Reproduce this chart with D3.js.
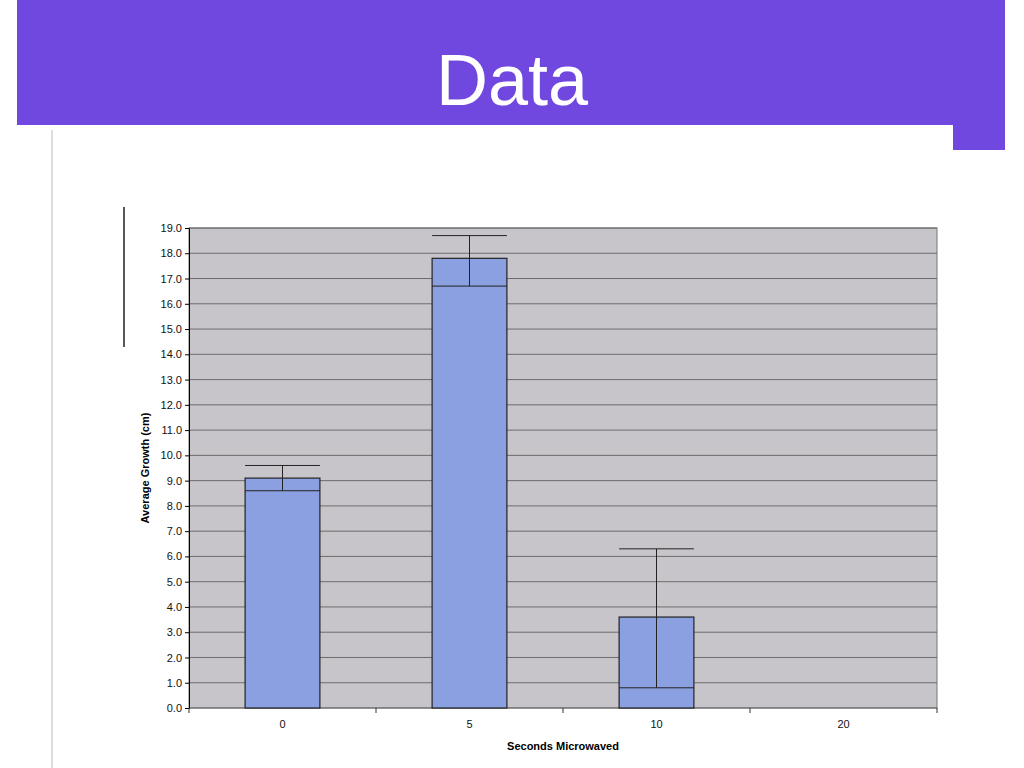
<!DOCTYPE html>
<html><head><meta charset="utf-8">
<script src="https://cdn.jsdelivr.net/npm/d3@7"></script>
<style>body{margin:0;background:#fff;}</style>
</head><body>
<svg id="chart" width="1024" height="768"></svg>
<script>
// data
const categories = ["0", "5", "10", "20"];
const growth = [9.1, 17.8, 3.6, 0];
const errLow = [8.6, 16.7, 0.8, null];
const errHigh = [9.6, 18.7, 6.3, null];
const yTicks = d3.range(0, 19.5, 1);

const svg = d3.select('#chart');

// slide header
svg.append('rect').attr('x', 17).attr('y', 0).attr('width', 988).attr('height', 125).attr('fill', '#7048e0');
svg.append('rect').attr('x', 953).attr('y', 125).attr('width', 52).attr('height', 25).attr('fill', '#7048e0');
svg.append('text').attr('x', 512).attr('y', 105).attr('text-anchor', 'middle')
    .attr('font-family', 'Liberation Sans, Arial, sans-serif').attr('font-size', 72).attr('fill', '#fff').text('Data');

// scan edge marks
svg.append('line').attr('x1', 52).attr('x2', 52).attr('y1', 130).attr('y2', 768).attr('stroke', '#bbb');
svg.append('line').attr('x1', 124).attr('x2', 124).attr('y1', 207).attr('y2', 347).attr('stroke', '#222').attr('stroke-width', 1.5);

const pLeft = 189, pRight = 937, pTop = 228, pBottom = 708;

const x = d3.scaleBand().domain(categories).range([pLeft, pRight]).paddingInner(0.6).paddingOuter(0.3);
const xg = d3.scaleBand().domain(categories).range([pLeft, pRight]);
const y = d3.scaleLinear().domain([0, 19]).range([pBottom, pTop]);

svg.append('rect').attr('x', pLeft).attr('y', pTop).attr('width', pRight - pLeft).attr('height', pBottom - pTop)
    .attr('fill', '#c8c5ca').attr('stroke', '#777');

svg.append('g').selectAll('line').data(yTicks).join('line')
    .attr('x1', pLeft).attr('x2', pRight).attr('y1', d => y(d)).attr('y2', d => y(d))
    .attr('stroke', '#555').attr('stroke-width', 0.8);

const yAxis = svg.append('g').attr('transform', `translate(${pLeft},0)`)
    .call(d3.axisLeft(y).tickValues(yTicks).tickFormat(d3.format('.1f')).tickSize(4));
yAxis.selectAll('text').attr('font-family', 'Liberation Sans, Arial').attr('font-size', 11).attr('fill', '#111');

const xAxis = svg.append('g').attr('transform', `translate(0,${pBottom})`)
    .call(d3.axisBottom(xg).tickSize(0).tickPadding(12));
xAxis.select('.domain').remove();
xAxis.selectAll('text').attr('font-family', 'Liberation Sans, Arial').attr('font-size', 11).attr('fill', '#111');
svg.append('g').selectAll('line').data(categories.concat(['end'])).join('line')
    .attr('x1', (d, i) => pLeft + i * xg.bandwidth()).attr('x2', (d, i) => pLeft + i * xg.bandwidth())
    .attr('y1', pBottom).attr('y2', pBottom + 5).attr('stroke', '#333');

svg.append('g').selectAll('rect').data(growth).join('rect')
    .attr('x', (d, i) => x(categories[i])).attr('width', x.bandwidth())
    .attr('y', d => y(d)).attr('height', d => pBottom - y(d))
    .attr('fill', '#8aa0e0').attr('stroke', '#222').attr('stroke-width', 1.2);

const eb = svg.append('g').attr('stroke', '#222').attr('stroke-width', 1);
categories.forEach((c, i) => {
  if (errLow[i] == null) return;
  const cx = x(c) + x.bandwidth() / 2, w = x.bandwidth() / 2;
  eb.append('line').attr('x1', cx).attr('x2', cx).attr('y1', y(errLow[i])).attr('y2', y(errHigh[i]));
  eb.append('line').attr('x1', cx - w).attr('x2', cx + w).attr('y1', y(errLow[i])).attr('y2', y(errLow[i]));
  eb.append('line').attr('x1', cx - w).attr('x2', cx + w).attr('y1', y(errHigh[i])).attr('y2', y(errHigh[i]));
});

svg.append('text').attr('x', 563).attr('y', 750).attr('text-anchor', 'middle')
    .attr('font-family', 'Liberation Sans, Arial').attr('font-weight', 'bold').attr('font-size', 11).text('Seconds Microwaved');
svg.append('text').attr('transform', 'translate(149,468) rotate(-90)').attr('text-anchor', 'middle')
    .attr('font-family', 'Liberation Sans, Arial').attr('font-weight', 'bold').attr('font-size', 11).text('Average Growth (cm)');
</script>
</body></html>
